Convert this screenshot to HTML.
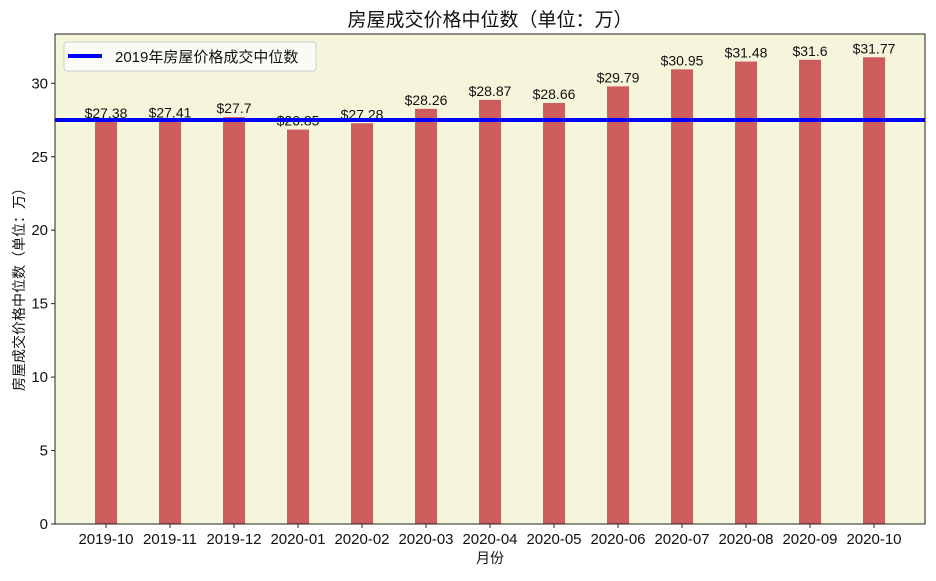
<!DOCTYPE html>
<html><head><meta charset="utf-8"><style>
body{margin:0;background:#fff;}
svg text{font-family:"Liberation Sans","Noto Sans CJK SC",sans-serif;fill:#111;}
</style></head><body>
<svg id="chart" width="936" height="576">
<text x="490" y="26" font-size="19" text-anchor="middle">房屋成交价格中位数（单位：万）</text>
<rect x="55" y="34" width="870" height="490" fill="#f5f5dc"/>
<g id="bars"></g>
<g id="yaxis"></g>
<g id="xaxis"></g>
<line id="refline" x1="55" x2="925" stroke="#0000ff" stroke-width="4"/>
<rect x="55" y="34" width="870" height="490" fill="none" stroke="#222" stroke-width="1"/>
<g>
<rect x="64" y="42" width="252" height="29" rx="3" fill="#fbfbf6" stroke="#ccc"/>
<line x1="68" x2="102" y1="56" y2="56" stroke="#0000ff" stroke-width="4"/>
<text x="115" y="62" font-size="15">2019年房屋价格成交中位数</text>
</g>
<text x="490" y="563" font-size="14" text-anchor="middle">月份</text>
<text transform="translate(24,286) rotate(-90)" font-size="14" text-anchor="middle">房屋成交价格中位数（单位：万）</text>
</svg>
<script>
const categories=["2019-10","2019-11","2019-12","2020-01","2020-02","2020-03","2020-04","2020-05","2020-06","2020-07","2020-08","2020-09","2020-10"];
const values=[27.38,27.41,27.7,26.85,27.28,28.26,28.87,28.66,29.79,30.95,31.48,31.6,31.77];
const refValue=27.5;
const yTicks=[0,5,10,15,20,25,30];
const NS="http://www.w3.org/2000/svg";
const y0=524, pxPerUnit=(524-83.3)/30;
const yScale=v=>y0-v*pxPerUnit;
const xScale=i=>106+i*64;
function mk(tag,attrs,parent){const e=document.createElementNS(NS,tag);for(const k in attrs)e.setAttribute(k,attrs[k]);parent.appendChild(e);return e;}
const bars=document.getElementById('bars'),ya=document.getElementById('yaxis'),xa=document.getElementById('xaxis');
values.forEach((v,i)=>{
 const r=mk('rect',{x:xScale(i)-11,y:yScale(v),width:22,height:y0-yScale(v),fill:'#cd5c5c'},bars);
 
 
 const t=mk('text',{x:xScale(i),y:yScale(v)-4,'font-size':14,'text-anchor':'middle'},bars);
 t.textContent='$'+v;
 
 
});
categories.forEach((c,i)=>{
 mk('line',{x1:xScale(i),x2:xScale(i),y1:y0,y2:y0+4,stroke:'#222'},xa);
 const t=mk('text',{x:xScale(i),y:y0+20,'font-size':15,'text-anchor':'middle'},xa);
 t.textContent=c;
 
 
});
yTicks.forEach(v=>{
 mk('line',{x1:51,x2:55,y1:yScale(v),y2:yScale(v),stroke:'#222'},ya);
 const t=mk('text',{x:48,y:yScale(v)+5,'font-size':15,'text-anchor':'end'},ya);
 t.textContent=v;
 
 
});
const rl=document.getElementById('refline');rl.setAttribute('y1',yScale(refValue));rl.setAttribute('y2',yScale(refValue));
</script>
</body></html>
